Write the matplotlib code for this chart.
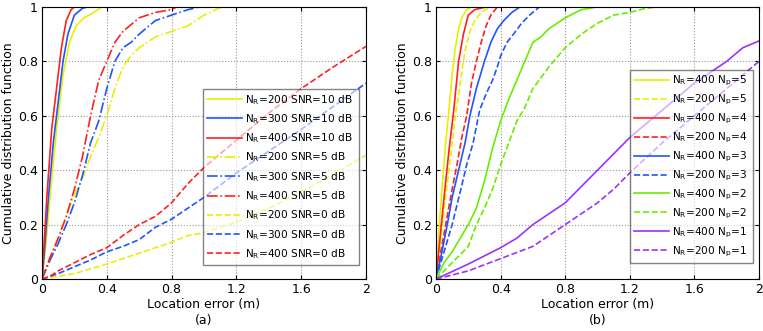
import matplotlib
matplotlib.use('Agg')
from matplotlib import pyplot as plt

# colores
amarelo = '#e8f000'
azul = '#1f55ff'
vermelho = '#ff2020'
verde = '#66ee00'
roxo = '#9933ff'

# ---- dados do painel (a) ----
x_a_400_10 = [0, 0.01, 0.03, 0.06, 0.09, 0.12, 0.15, 0.18, 0.2]
y_a_400_10 = [0, 0.1, 0.3, 0.55, 0.7, 0.85, 0.95, 0.99, 1]
x_a_300_10 = [0, 0.015, 0.04, 0.07, 0.1, 0.13, 0.16, 0.2, 0.25, 0.28]
y_a_300_10 = [0, 0.1, 0.3, 0.5, 0.65, 0.8, 0.9, 0.97, 0.995, 1]
x_a_200_10 = [0, 0.02, 0.05, 0.09, 0.13, 0.17, 0.21, 0.26, 0.32, 0.37]
y_a_200_10 = [0, 0.1, 0.3, 0.55, 0.75, 0.87, 0.93, 0.96, 0.98, 1]

x_a_400_5 = [0, 0.05, 0.1, 0.15, 0.2, 0.25, 0.3, 0.35, 0.4, 0.45, 0.5, 0.6, 0.7, 0.8, 0.83]
y_a_400_5 = [0, 0.08, 0.15, 0.23, 0.33, 0.45, 0.6, 0.73, 0.8, 0.87, 0.91, 0.96, 0.98, 0.99, 1]
x_a_300_5 = [0, 0.05, 0.1, 0.15, 0.2, 0.25, 0.3, 0.35, 0.4, 0.45, 0.5, 0.55, 0.6, 0.7, 0.8, 0.9, 0.97]
y_a_300_5 = [0, 0.07, 0.13, 0.2, 0.28, 0.38, 0.5, 0.58, 0.7, 0.8, 0.85, 0.87, 0.9, 0.95, 0.97, 0.99, 1]
x_a_200_5 = [0, 0.05, 0.1, 0.15, 0.2, 0.25, 0.3, 0.35, 0.4, 0.45, 0.5, 0.55, 0.6, 0.7, 0.8, 0.9, 0.95, 1.0, 1.11]
y_a_200_5 = [0, 0.07, 0.15, 0.23, 0.31, 0.37, 0.45, 0.52, 0.6, 0.7, 0.78, 0.82, 0.85, 0.89, 0.91, 0.93, 0.95, 0.97, 1]

x_a_400_0 = [0, 0.05, 0.1, 0.2, 0.3, 0.4, 0.5, 0.6, 0.7, 0.8, 0.9, 1.0, 1.2, 1.4, 1.6, 1.8, 2.0]
y_a_400_0 = [0, 0.01, 0.03, 0.06, 0.09, 0.115, 0.16, 0.2, 0.23, 0.28, 0.35, 0.41, 0.51, 0.61, 0.70, 0.78, 0.855]
x_a_300_0 = [0, 0.1, 0.2, 0.3, 0.4, 0.5, 0.6, 0.7, 0.8, 0.9, 1.0, 1.2, 1.4, 1.6, 1.8, 2.0]
y_a_300_0 = [0, 0.02, 0.045, 0.07, 0.1, 0.12, 0.145, 0.19, 0.22, 0.26, 0.3, 0.39, 0.47, 0.55, 0.635, 0.72]
x_a_200_0 = [0, 0.2, 0.4, 0.6, 0.8, 0.9, 1.0, 1.2, 1.4, 1.6, 1.8, 2.0]
y_a_200_0 = [0, 0.02, 0.055, 0.095, 0.135, 0.16, 0.17, 0.21, 0.26, 0.32, 0.385, 0.455]

# ---- dados do painel (b) ----
x_b_400_5 = [0, 0.02, 0.04, 0.06, 0.08, 0.1, 0.12, 0.14, 0.16, 0.19, 0.22]
y_b_400_5 = [0, 0.2, 0.35, 0.5, 0.62, 0.75, 0.85, 0.92, 0.96, 0.99, 1]
x_b_200_5 = [0, 0.03, 0.06, 0.09, 0.12, 0.15, 0.18, 0.21, 0.24, 0.28, 0.32, 0.35]
y_b_200_5 = [0, 0.15, 0.3, 0.45, 0.6, 0.72, 0.84, 0.91, 0.95, 0.98, 0.995, 1]
x_b_400_4 = [0, 0.02, 0.05, 0.08, 0.11, 0.14, 0.17, 0.2, 0.24, 0.31]
y_b_400_4 = [0, 0.12, 0.3, 0.47, 0.62, 0.8, 0.9, 0.97, 0.99, 1]
x_b_200_4 = [0, 0.03, 0.06, 0.1, 0.13, 0.16, 0.19, 0.22, 0.25, 0.28, 0.31, 0.34, 0.38]
y_b_200_4 = [0, 0.1, 0.2, 0.33, 0.42, 0.52, 0.6, 0.72, 0.8, 0.87, 0.93, 0.97, 1]
x_b_400_3 = [0, 0.03, 0.07, 0.1, 0.14, 0.18, 0.21, 0.25, 0.3, 0.34, 0.38, 0.42, 0.47, 0.52]
y_b_400_3 = [0, 0.08, 0.2, 0.3, 0.4, 0.5, 0.6, 0.7, 0.8, 0.87, 0.92, 0.95, 0.98, 1]
x_b_200_3 = [0, 0.05, 0.1, 0.15, 0.19, 0.23, 0.27, 0.31, 0.35, 0.38, 0.4, 0.44, 0.48, 0.53, 0.58, 0.64]
y_b_200_3 = [0, 0.1, 0.2, 0.32, 0.42, 0.5, 0.62, 0.68, 0.73, 0.78, 0.82, 0.87, 0.9, 0.94, 0.97, 1]
x_b_400_2 = [0, 0.05, 0.1, 0.15, 0.2, 0.25, 0.3, 0.35, 0.4, 0.45, 0.5, 0.55, 0.6, 0.65, 0.7, 0.8, 0.9, 1.0]
y_b_400_2 = [0, 0.06, 0.1, 0.15, 0.2, 0.26, 0.36, 0.48, 0.58, 0.66, 0.73, 0.8, 0.87, 0.89, 0.92, 0.96, 0.99, 1]
x_b_200_2 = [0, 0.1, 0.2, 0.25, 0.3, 0.35, 0.4, 0.45, 0.5, 0.55, 0.6, 0.7, 0.8, 0.9, 1.0, 1.1, 1.2, 1.3, 1.37]
y_b_200_2 = [0, 0.06, 0.12, 0.2, 0.26, 0.33, 0.42, 0.5, 0.58, 0.63, 0.7, 0.78, 0.85, 0.9, 0.94, 0.97, 0.98, 0.995, 1]
x_b_400_1 = [0, 0.2, 0.4, 0.5, 0.6, 0.7, 0.8, 0.9, 1.0, 1.1, 1.2, 1.4, 1.6, 1.8, 1.9, 2.0]
y_b_400_1 = [0, 0.055, 0.115, 0.15, 0.2, 0.24, 0.28, 0.34, 0.4, 0.46, 0.52, 0.62, 0.72, 0.8, 0.85, 0.875]
x_b_200_1 = [0, 0.2, 0.4, 0.6, 0.7, 0.8, 0.9, 1.0, 1.1, 1.2, 1.4, 1.6, 1.8, 2.0]
y_b_200_1 = [0, 0.03, 0.075, 0.12, 0.16, 0.2, 0.24, 0.28, 0.33, 0.39, 0.5, 0.6, 0.7, 0.8]

curvas_a = [
    (x_a_200_10, y_a_200_10, amarelo, '-', 'N$_\\mathregular{R}$=200 SNR=10 dB'),
    (x_a_300_10, y_a_300_10, azul, '-', 'N$_\\mathregular{R}$=300 SNR=10 dB'),
    (x_a_400_10, y_a_400_10, vermelho, '-', 'N$_\\mathregular{R}$=400 SNR=10 dB'),
    (x_a_200_5, y_a_200_5, amarelo, '-.', 'N$_\\mathregular{R}$=200 SNR=5 dB'),
    (x_a_300_5, y_a_300_5, azul, '-.', 'N$_\\mathregular{R}$=300 SNR=5 dB'),
    (x_a_400_5, y_a_400_5, vermelho, '-.', 'N$_\\mathregular{R}$=400 SNR=5 dB'),
    (x_a_200_0, y_a_200_0, amarelo, '--', 'N$_\\mathregular{R}$=200 SNR=0 dB'),
    (x_a_300_0, y_a_300_0, azul, '--', 'N$_\\mathregular{R}$=300 SNR=0 dB'),
    (x_a_400_0, y_a_400_0, vermelho, '--', 'N$_\\mathregular{R}$=400 SNR=0 dB'),
]

curvas_b = [
    (x_b_400_5, y_b_400_5, amarelo, '-', 'N$_\\mathregular{R}$=400 N$_\\mathregular{p}$=5'),
    (x_b_200_5, y_b_200_5, amarelo, '--', 'N$_\\mathregular{R}$=200 N$_\\mathregular{p}$=5'),
    (x_b_400_4, y_b_400_4, vermelho, '-', 'N$_\\mathregular{R}$=400 N$_\\mathregular{p}$=4'),
    (x_b_200_4, y_b_200_4, vermelho, '--', 'N$_\\mathregular{R}$=200 N$_\\mathregular{p}$=4'),
    (x_b_400_3, y_b_400_3, azul, '-', 'N$_\\mathregular{R}$=400 N$_\\mathregular{p}$=3'),
    (x_b_200_3, y_b_200_3, azul, '--', 'N$_\\mathregular{R}$=200 N$_\\mathregular{p}$=3'),
    (x_b_400_2, y_b_400_2, verde, '-', 'N$_\\mathregular{R}$=400 N$_\\mathregular{p}$=2'),
    (x_b_200_2, y_b_200_2, verde, '--', 'N$_\\mathregular{R}$=200 N$_\\mathregular{p}$=2'),
    (x_b_400_1, y_b_400_1, roxo, '-', 'N$_\\mathregular{R}$=400 N$_\\mathregular{p}$=1'),
    (x_b_200_1, y_b_200_1, roxo, '--', 'N$_\\mathregular{R}$=200 N$_\\mathregular{p}$=1'),
]

xticks = [0, 0.4, 0.8, 1.2, 1.6, 2.0]
xticklabels = ['0', '0.4', '0.8', '1.2', '1.6', '2']
yticks = [0, 0.2, 0.4, 0.6, 0.8, 1.0]
yticklabels = ['0', '0.2', '0.4', '0.6', '0.8', '1']

plt.rcParams['font.family'] = ['DejaVu Sans']
plt.rcParams['font.size'] = 9
plt.rcParams['mathtext.fontset'] = 'dejavusans'

fig = plt.figure(figsize=(7.63, 3.31), dpi=100)
ax_a = fig.add_axes([0.055, 0.157, 0.4246, 0.822])
ax_b = fig.add_axes([0.5714, 0.157, 0.4233, 0.822])


def desenha(ax, curvas, letra, bbox, espaco):
    for x, y, cor, estilo, rotulo in curvas:
        ax.plot(x, y, color=cor, linestyle=estilo, linewidth=1.2, label=rotulo)
    ax.set_xlim(0, 2)
    ax.set_ylim(0, 1)
    ax.set_xticks(xticks)
    ax.set_xticklabels(xticklabels)
    ax.set_yticks(yticks)
    ax.set_yticklabels(yticklabels)
    ax.grid(True, linestyle=':', color='#9a9a9a', linewidth=0.8)
    ax.tick_params(direction='in', top=True, right=True, length=3, pad=3)
    ax.set_xlabel('Location error (m)\n(' + letra + ')', linespacing=1.3, labelpad=1)
    ax.set_ylabel('Cumulative distribution function', labelpad=2)
    leg = ax.legend(loc='lower left', bbox_to_anchor=bbox, mode='expand',
                    fancybox=False, framealpha=0.6, edgecolor='#333333',
                    handlelength=3.3, handletextpad=0.3, labelspacing=espaco,
                    borderpad=0.4, borderaxespad=0, fontsize=7.6)
    leg.get_frame().set_linewidth(1.0)


desenha(ax_a, curvas_a, 'a', (0.497, 0.051, 0.481, 0.651), 0.52)
desenha(ax_b, curvas_b, 'b', (0.600, 0.059, 0.381, 0.717), 0.43)

fig.savefig('out.png', dpi=100)
